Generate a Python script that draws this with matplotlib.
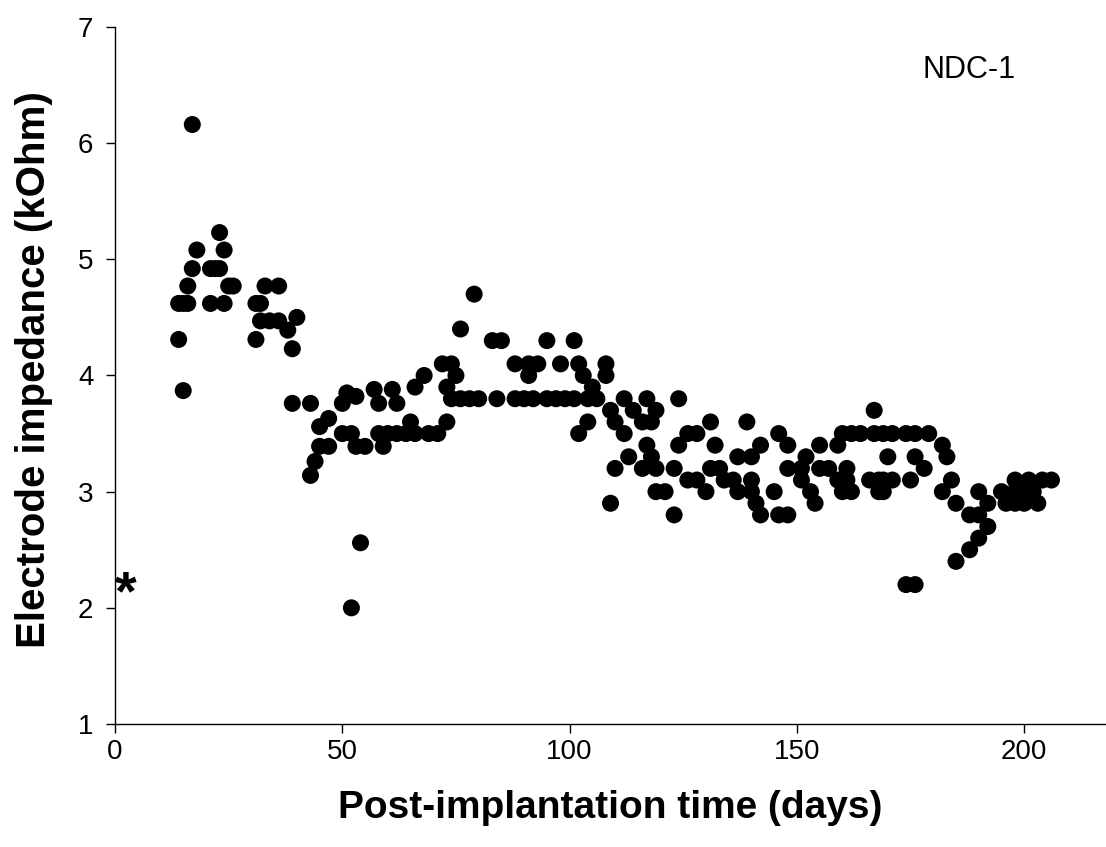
import matplotlib
matplotlib.use("Agg")
import matplotlib.pyplot as plt


# impedance readings (day, kOhm)
DAYS = [
    14, 14, 15, 15, 16, 16, 17, 17, 18, 21, 21, 22, 23, 23, 24, 24, 25, 26,
    31, 31, 32, 32, 33, 34, 36, 36, 38, 39, 39, 40,
    43, 43, 44, 45, 45, 47, 47, 50, 50, 51, 52, 52, 53, 53, 54, 55,
    57, 58, 58, 59, 60, 61, 62, 62, 64, 65, 66, 66, 68, 69, 71,
    72, 73, 73, 74, 74, 75, 76, 76, 78, 79, 80, 83, 84, 85,
    88, 88, 90, 91, 91, 92, 93, 95, 95, 97, 98, 99,
    101, 101, 102, 102, 103, 104, 104, 105, 106, 108, 108,
    109, 109, 110, 110, 112, 112, 113, 114, 116, 116, 117, 117, 118, 118,
    119, 119, 119, 121, 123, 123, 124, 124, 126, 126, 128, 128,
    130, 131, 131, 132, 133, 134, 136, 137, 137, 139, 140, 140, 140,
    141, 142, 142, 145, 146, 146, 148, 148, 148, 151, 151, 152, 153, 154,
    155, 155, 157, 159, 159, 160, 160, 161, 161, 162, 162, 164,
    166, 167, 167, 168, 168, 169, 169, 169, 170, 171, 171,
    174, 174, 175, 176, 176, 176, 178, 179, 182, 182, 183, 184,
    185, 185, 188, 188, 190, 190, 190, 192, 192, 195, 196,
    198, 198, 198, 200, 200, 201, 202, 203, 204, 206,
]
IMPEDANCE = [
    4.31, 4.62, 4.62, 3.87, 4.62, 4.77, 4.92, 6.16, 5.08, 4.62, 4.92, 4.92, 4.92, 5.23, 4.62, 5.08, 4.77, 4.77,
    4.31, 4.62, 4.62, 4.47, 4.77, 4.47, 4.77, 4.47, 4.39, 4.23, 3.76, 4.50,
    3.76, 3.14, 3.26, 3.56, 3.39, 3.63, 3.39, 3.76, 3.50, 3.85, 3.50, 2.00, 3.82, 3.39, 2.56, 3.39,
    3.88, 3.76, 3.50, 3.39, 3.50, 3.88, 3.76, 3.50, 3.50, 3.60, 3.50, 3.90, 4.00, 3.50, 3.50,
    4.10, 3.90, 3.60, 4.10, 3.80, 4.00, 4.40, 3.80, 3.80, 4.70, 3.80, 4.30, 3.80, 4.30,
    4.10, 3.80, 3.80, 4.10, 4.00, 3.80, 4.10, 4.30, 3.80, 3.80, 4.10, 3.80,
    4.30, 3.80, 4.10, 3.50, 4.00, 3.80, 3.60, 3.90, 3.80, 4.10, 4.00,
    3.70, 2.90, 3.60, 3.20, 3.80, 3.50, 3.30, 3.70, 3.60, 3.20, 3.80, 3.40, 3.60, 3.30,
    3.70, 3.20, 3.00, 3.00, 3.20, 2.80, 3.80, 3.40, 3.50, 3.10, 3.50, 3.10,
    3.00, 3.60, 3.20, 3.40, 3.20, 3.10, 3.10, 3.30, 3.00, 3.60, 3.30, 3.10, 3.00,
    2.90, 3.40, 2.80, 3.00, 3.50, 2.80, 3.40, 3.20, 2.80, 3.20, 3.10, 3.30, 3.00, 2.90,
    3.40, 3.20, 3.20, 3.40, 3.10, 3.50, 3.00, 3.20, 3.10, 3.50, 3.00, 3.50,
    3.10, 3.70, 3.50, 3.10, 3.00, 3.50, 3.10, 3.00, 3.30, 3.50, 3.10,
    3.50, 2.20, 3.10, 3.50, 3.30, 2.20, 3.20, 3.50, 3.40, 3.00, 3.30, 3.10,
    2.90, 2.40, 2.80, 2.50, 2.80, 2.60, 3.00, 2.70, 2.90, 3.00, 2.90,
    3.00, 2.90, 3.10, 3.00, 2.90, 3.10, 3.00, 2.90, 3.10, 3.10,
]

X_TICKS = [0, 50, 100, 150, 200]
Y_TICKS = [1, 2, 3, 4, 5, 6, 7]
ASTERISK_X = 2.3
PANEL_LABEL = "NDC-1"

plt.rcParams["font.family"] = ["Liberation Sans", "DejaVu Sans"]


def build_chart() -> None:
    fig = plt.figure(figsize=(11.06, 8.47), dpi=100)
    ax = fig.add_axes([0.104, 0.1452, 0.896, 0.823])

    ax.scatter(DAYS, IMPEDANCE, s=150, color="black", edgecolors="none", zorder=3)

    ax.set_xlim(0, 218)
    ax.set_ylim(1, 7)
    ax.set_xticks(X_TICKS)
    ax.set_yticks(Y_TICKS)

    for side in ["top", "right"]:
        ax.spines[side].set_visible(False)
    for side in ["left", "bottom"]:
        ax.spines[side].set_linewidth(1.0)

    ax.tick_params(axis="both", direction="out", length=6.5, width=1.0, labelsize=20)
    ax.tick_params(axis="y", pad=9)
    ax.tick_params(axis="x", pad=4)

    ax.set_xlabel("Post-implantation time (days)", fontsize=28, fontweight="bold")
    ax.set_ylabel("Electrode impedance (kOhm)", fontsize=29, fontweight="bold")
    ax.xaxis.set_label_coords(0.5, -0.095)
    ax.yaxis.set_label_coords(-0.063, 0.508)

    ax.text(0.862, 0.938, PANEL_LABEL, transform=ax.transAxes, fontsize=22,
            ha="center", va="center")
    # asterisk marker near the y axis (baseline placed so the glyph sits at ~2.2)
    ax.text(ASTERISK_X, 1.99, "*", fontsize=40, fontweight="bold",
            ha="center", va="baseline")

    fig.savefig("out.png", dpi=100)
    plt.close(fig)


def main() -> None:
    build_chart()


if __name__ == "__main__":
    main()
